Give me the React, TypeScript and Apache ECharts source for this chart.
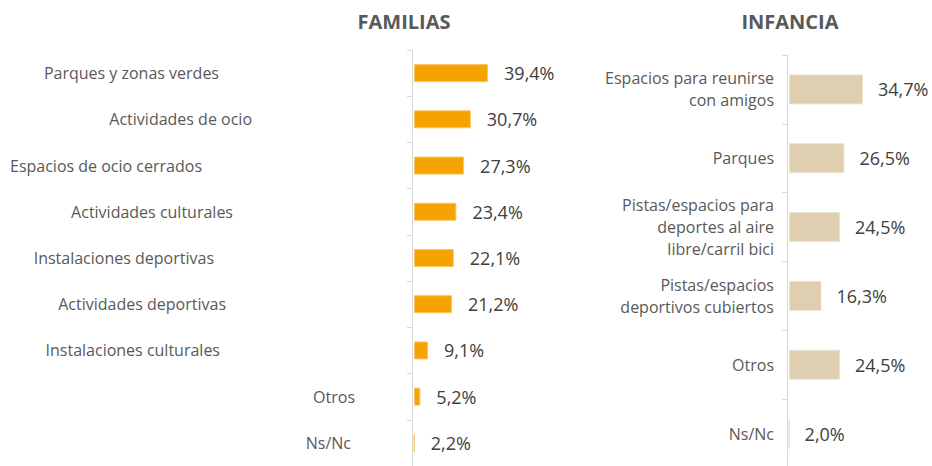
import React, { useEffect, useRef } from "react";
import * as echarts from "echarts";

const familiasCategories = [
  "Parques y zonas verdes",
  "Actividades de ocio",
  "Espacios de ocio cerrados",
  "Actividades culturales",
  "Instalaciones deportivas",
  "Actividades deportivas",
  "Instalaciones culturales",
  "Otros",
  "Ns/Nc",
];
const familiasValues = [39.4, 30.7, 27.3, 23.4, 22.1, 21.2, 9.1, 5.2, 2.2];

const infanciaCategories = [
  "Espacios para reunirse\ncon amigos",
  "Parques",
  "Pistas/espacios para\ndeportes al aire\nlibre/carril bici",
  "Pistas/espacios\ndeportivos cubiertos",
  "Otros",
  "Ns/Nc",
];
const infanciaValues = [34.7, 26.5, 24.5, 16.3, 24.5, 2.0];

// style: right padding of each left-panel label (reference places them irregularly)
const familiasLabelPad = [185, 152, 202, 171, 190, 178, 184, 49, 53];

const FONT = "'Open Sans', 'Noto Sans', sans-serif";
const LABEL_COLOR = "#595959";
const VALUE_COLOR = "#404040";

const fmt = (v: number) => v.toFixed(1).replace(".", ",") + "%";

export default function App() {
  const ref = useRef<HTMLDivElement>(null);
  useEffect(() => {
    if (!ref.current) return;
    const chart = echarts.init(ref.current, undefined, { renderer: "svg" });
    const rich: Record<string, any> = {};
    familiasLabelPad.forEach((p, i) => {
      rich["p" + i] = {
        fontFamily: FONT,
        fontSize: 16,
        color: LABEL_COLOR,
        padding: [0, p, 0, 0],
      };
    });
    const axisLineStyle = { lineStyle: { color: "#d9d9d9", width: 1 } };
    chart.setOption({
      animation: false,
      graphic: [
        {
          type: "text",
          x: 404,
          y: 21,
          style: {
            text: "FAMILIAS",
            font: `bold 20px ${FONT}`,
            fill: LABEL_COLOR,
            textAlign: "center",
            textVerticalAlign: "middle",
          },
        },
        {
          type: "text",
          x: 790,
          y: 21,
          style: {
            text: "INFANCIA",
            font: `bold 20px ${FONT}`,
            fill: LABEL_COLOR,
            textAlign: "center",
            textVerticalAlign: "middle",
          },
        },
      ],
      grid: [
        { left: 414, top: 50, width: 200, height: 416, outerBoundsMode: "none" },
        { left: 789, top: 55, width: 140, height: 413, outerBoundsMode: "none" },
      ],
      xAxis: [
        { type: "value", gridIndex: 0, min: 2, max: 103, startValue: 2, show: false },
        { type: "value", gridIndex: 1, min: 1.9, max: 63.96, startValue: 1.9, show: false },
      ],
      yAxis: [
        {
          type: "category",
          gridIndex: 0,
          inverse: true,
          offset: 2,
          data: familiasCategories,
          axisLine: axisLineStyle,
          axisTick: { show: true, length: 5, lineStyle: { color: "#d9d9d9" } },
          axisLabel: {
            margin: 8,
            formatter: (v: string) => {
              const i = familiasCategories.indexOf(v);
              return `{p${i}|${v}}`;
            },
            rich,
          },
        },
        {
          type: "category",
          gridIndex: 1,
          inverse: true,
          offset: 2,
          data: infanciaCategories,
          axisLine: axisLineStyle,
          axisTick: { show: true, length: 5, lineStyle: { color: "#d9d9d9" } },
          axisLabel: {
            margin: 13,
            fontFamily: FONT,
            fontSize: 16,
            lineHeight: 22,
            color: LABEL_COLOR,
          },
        },
      ],
      series: [
        {
          type: "bar",
          xAxisIndex: 0,
          yAxisIndex: 0,
          data: familiasValues,
          barWidth: 18,
          clip: false,
          itemStyle: { color: "#F4A300", borderColor: "#F8C766", borderWidth: 1 },
          label: {
            show: true,
            position: "right",
            distance: 16,
            fontFamily: FONT,
            fontSize: 18,
            color: VALUE_COLOR,
            formatter: (p: any) => fmt(p.value),
          },
        },
        {
          type: "bar",
          xAxisIndex: 1,
          yAxisIndex: 1,
          data: infanciaValues,
          barWidth: 30,
          clip: false,
          itemStyle: { color: "#DFCFB0", borderColor: "#EDE3D1", borderWidth: 1 },
          label: {
            show: true,
            position: "right",
            distance: 15,
            fontFamily: FONT,
            fontSize: 18,
            color: VALUE_COLOR,
            formatter: (p: any) => fmt(p.value),
          },
        },
      ],
    });
    return () => chart.dispose();
  }, []);
  return (
    <div
      ref={ref}
      style={{ position: "fixed", left: 0, top: 0, width: 932, height: 466, background: "#fff" }}
    />
  );
}
